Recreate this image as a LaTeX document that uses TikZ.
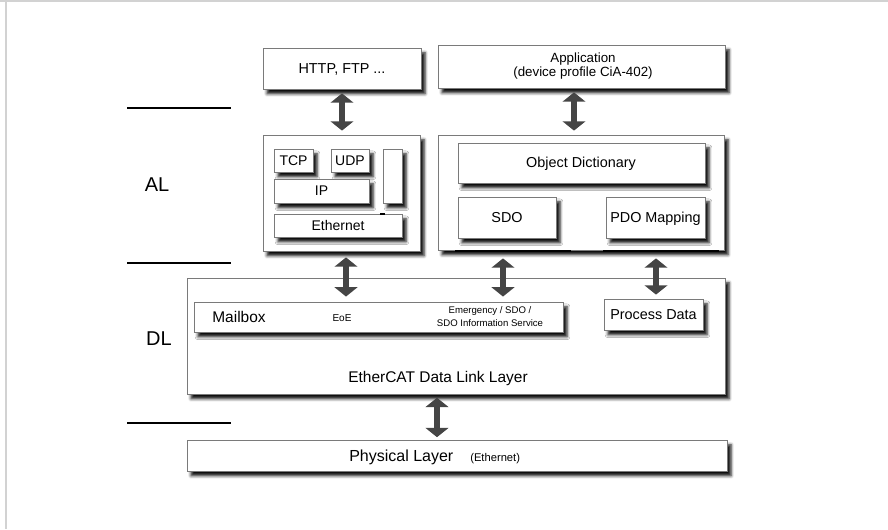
\documentclass[tikz,border=0pt]{standalone}
\usepackage{fontspec}
\setmainfont{Liberation Sans}
\usetikzlibrary{arrows.meta,shadows.blur,fit}
\definecolor{boxgray}{HTML}{7A7A7A}
\definecolor{arrowgray}{HTML}{454545}
\definecolor{framegray}{HTML}{D2D2D2}
\newcommand\fsz[2]{\fontsize{#1pt}{#2pt}\selectfont}
\begin{document}
\begin{tikzpicture}[x=0.75pt,y=-0.75pt,
  box/.style={draw=boxgray, fill=white, line width=0.6pt, inner sep=0pt,
    blur shadow={shadow xshift=3pt, shadow yshift=-3.6pt, shadow blur radius=2.2pt, shadow opacity=95}},
  lbl/.style={inner sep=0pt, text=black},
  dblarrow/.style={draw=arrowgray, line width=5pt,
    {Triangle[width=17pt,length=7pt]}-{Triangle[width=17pt,length=7pt]},
    shorten <=3pt, shorten >=3pt},
  layerline/.style={draw=black, line width=1.6pt},
  baseline/.style={draw=black, line width=1.8pt}
]
\useasboundingbox (0,0) rectangle (888,529);
% outer frame
\draw[framegray, line width=1.4pt] (0,1) -- (888,1);
\draw[framegray, line width=1.4pt] (6,1) -- (6,529);

% layer separators and labels
\draw[layerline] (127,108) -- (231,108);
\draw[layerline] (127,263) -- (231,263);
\draw[layerline] (127,423) -- (231,423);
\node[lbl, font=\fsz{15}{18}] (al) at (157,185) {AL};
\node[lbl, font=\fsz{15}{18}] (dl) at (159,339) {DL};

% top boxes
\node[box, fit={(263,48) (421,89)}] (http) {};
\node[lbl, font=\fsz{10.8}{13}] (httpt) at (342,69) {HTTP, FTP ...};
\node[box, fit={(438,45) (725,88)}] (app) {};
\node[lbl, align=center, font=\fsz{10}{10.5}] (appt) at (583,66) {Application\\(device profile CiA-402)};

% AL left
\node[box, fit={(263,135) (420,251)}] (alL) {};
\node[box, fit={(274,149) (313,172)}] (tcp) {};
\node[lbl, font=\fsz{10.5}{12}] (tcpt) at (tcp) {TCP};
\node[box, fit={(331,149) (369,172)}] (udp) {};
\node[lbl, font=\fsz{10.5}{12}] (udpt) at (udp) {UDP};
\node[box, fit={(274,179) (369,203)}] (ip) {};
\node[lbl, font=\fsz{10.5}{12}] (ipt) at (ip) {IP};
\node[box, fit={(383,149) (402,203)}] (vbox) {};
\node[box, fit={(274,214) (402,237)}] (eth) {};
\node[lbl, font=\fsz{10.5}{12}] (etht) at (eth) {Ethernet};
\draw[black, line width=1.5pt] (380,214) -- (385,214);

% AL right
\node[box, fit={(438,135) (724,250)}] (alR) {};
\node[box, fit={(458,143) (705,183)}] (od) {};
\node[lbl, font=\fsz{10.8}{13}] (odt) at (581,164) {Object Dictionary};
\node[box, fit={(458,197) (556,238)}] (sdo) {};
\node[lbl, font=\fsz{10.8}{13}] (sdot) at (sdo) {SDO};
\node[box, fit={(606,197) (705,238)}] (pdo) {};
\node[lbl, font=\fsz{10.8}{13}] (pdot) at (655.5,219) {PDO Mapping};
\draw[baseline] (455,251) -- (571,251);
\draw[baseline] (603,251) -- (719,251);

% DL
\node[box, fit={(187,278) (725,394)}] (dlbox) {};
\node[box, fit={(194,302) (563,332)}] (mbox) {};
\node[lbl, font=\fsz{11.6}{14}] (mailbox) at (239,317) {Mailbox};
\node[lbl, font=\fsz{7.5}{9}] (eoe) at (342,318) {EoE};
\node[lbl, align=center, font=\fsz{7.2}{9.8}] (emcy) at (490,317) {Emergency / SDO /\\SDO Information Service};
\node[box, fit={(604,299) (703,330)}] (pd) {};
\node[lbl, font=\fsz{10.8}{13}] (pdt) at (pd) {Process Data};
\node[lbl, font=\fsz{11.6}{14}] (dllbl) at (438,378) {EtherCAT Data Link Layer};

% Physical
\node[box, fit={(187,440) (727,471)}] (phys) {};
\node[lbl, anchor=base west, font=\fsz{12}{14}] (physlbl) at (349,461) {Physical Layer};
\node[lbl, anchor=base west, font=\fsz{8.4}{10}] (physeth) at (470,461) {(Ethernet)};

% arrow columns
\coordinate (c1) at (342,0);
\coordinate (c2) at (574,0);
\coordinate (c3) at (346,0);
\coordinate (c4) at (503,0);
\coordinate (c5) at (656,0);
\coordinate (c6) at (437,0);

\draw[dblarrow] (http.south -| c1) -- (alL.north -| c1);
\draw[dblarrow] (app.south -| c2) -- (alR.north -| c2);
\draw[dblarrow, shorten <=4.5pt, shorten >=3.8pt] (alL.south -| c3) -- (mbox.north -| c3);
\draw[dblarrow, shorten <=6pt, shorten >=3.8pt] (alR.south -| c4) -- (mbox.north -| c4);
\draw[dblarrow, shorten <=6pt, shorten >=3pt] (alR.south -| c5) -- (pd.north -| c5);
\draw[dblarrow, shorten <=2.5pt, shorten >=1.8pt] (dlbox.south -| c6) -- (phys.north -| c6);
\end{tikzpicture}
\end{document}
